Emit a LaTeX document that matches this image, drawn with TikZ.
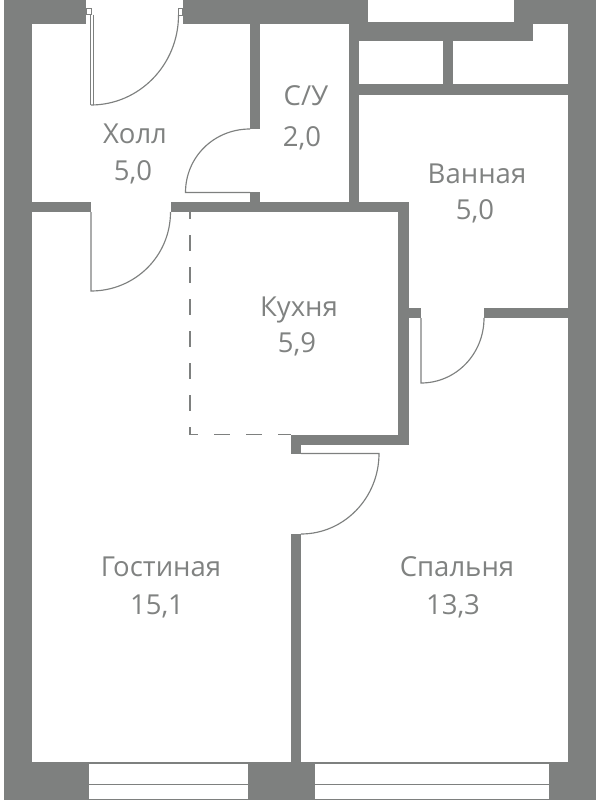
\documentclass[tikz,border=0pt]{standalone}
\usepackage{fontspec}
\setmainfont{Open Sans}
\definecolor{wallc}{HTML}{7E807F}
\definecolor{textc}{HTML}{808281}
\tikzset{
  wall/.style={fill=wallc,draw=none},
  opening/.style={fill=white,draw=none},
  doorline/.style={draw=wallc,line width=1.15pt,fill=none},
  jamb/.style={draw=wallc,line width=0.8pt,fill=white},
  dashline/.style={draw=wallc,line width=1.4pt,dash pattern=on 16pt off 16pt,dash phase=9pt},
  label/.style={text=textc,font=\fontsize{27.5}{27.5}\selectfont,anchor=base,inner sep=0pt}
}
\begin{document}
\begin{tikzpicture}[x=1pt,y=-1pt]
\useasboundingbox (0,0) rectangle (600,800);
% outer walls
\fill[wall] (4,0) rectangle (86,24);
\fill[wall] (4,0) rectangle (32,800);
\fill[wall] (183,0) rectangle (368,24);
\fill[wall] (514,0) rectangle (596,24);
\fill[wall] (568,0) rectangle (596,800);
\fill[wall] (4,762) rectangle (596,800);
% windows
\fill[opening] (89.3,764) rectangle (248,783.5);
\fill[opening] (89.3,785) rectangle (248,798.5);
\fill[opening] (314.7,764) rectangle (549,783.5);
\fill[opening] (314.7,785) rectangle (549,798.5);
% inner walls, upper right
\fill[wall] (349,22) rectangle (533,41);
\fill[wall] (349,22) rectangle (359,212);
\fill[wall] (359,84) rectangle (568,94.5);
\fill[wall] (443,41) rectangle (453,84);
% WC walls
\fill[wall] (250,24) rectangle (260,129);
\fill[wall] (250,192) rectangle (260,212);
% hall / kitchen walls
\fill[wall] (32,202) rectangle (91,212);
\fill[wall] (170.5,202) rectangle (408.5,212);
\fill[wall] (398,202) rectangle (408.5,445);
\fill[wall] (290.7,434.7) rectangle (408.5,445);
\fill[wall] (290.7,434.7) rectangle (301,453.7);
\fill[wall] (290.7,533.7) rectangle (301,762);
\fill[wall] (408,308) rectangle (421,318);
\fill[wall] (484,308) rectangle (568,318);
% entrance door
\draw[jamb] (86.7,8) rectangle (91.7,14.7);
\draw[jamb] (178.3,8) rectangle (182.7,15);
\draw[doorline] (90.9,14.7) -- (90.9,105) (93.6,14.7) -- (93.6,105);
\draw[doorline] (90.9,105) .. controls (139,105) and (178.5,65) .. (178.5,15);
% WC door
\draw[doorline] (250,192.5) -- (185.5,192.5) .. controls (185.5,157) and (214,129) .. (250,129);
% hall door
\draw[doorline] (91,212) -- (91,291) .. controls (135,291) and (170.5,256) .. (170.5,212);
% bath door
\draw[doorline] (421,318) -- (421,383) .. controls (456,383) and (484,354) .. (484,318);
% bedroom door
\draw[doorline] (301,453.5) -- (379,453.5) .. controls (379,498) and (344,534) .. (301,534);
% kitchen zone
\draw[dashline] (190,212) -- (190,434.7) -- (291,434.7);
% labels
\node[label] (holl) at (135,143) {Холл};
\node[label] (hollv) at (133,180) {5,0};
\node[label] (wc) at (306,105) {С/У};
\node[label] (wcv) at (302,146) {2,0};
\node[label] (bath) at (477,183) {Ванная};
\node[label] (bathv) at (475,219) {5,0};
\node[label] (kitchen) at (299,316) {Кухня};
\node[label] (kitchenv) at (297,352) {5,9};
\node[label] (living) at (161,576.5) {Гостиная};
\node[label] (livingv) at (157,614) {15,1};
\node[label] (bed) at (457,576.5) {Спальня};
\node[label] (bedv) at (453,614) {13,3};
\end{tikzpicture}
\end{document}
